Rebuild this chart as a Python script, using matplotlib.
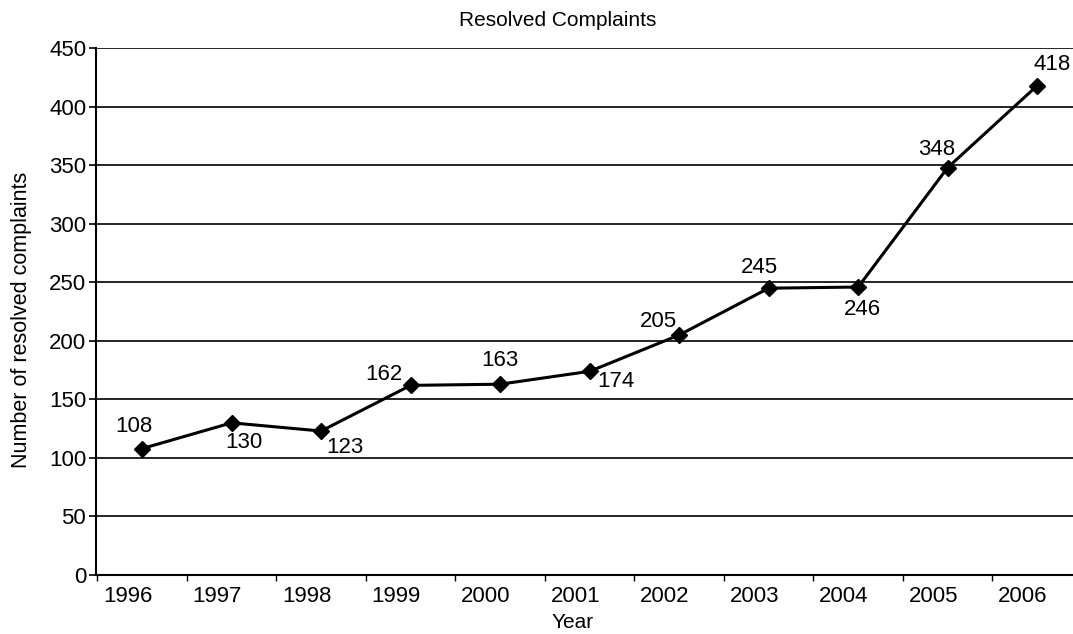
import numpy as np
import matplotlib.pyplot as plt

plt.rcParams['font.family'] = ['Liberation Sans', 'DejaVu Sans']

years = ['1996', '1997', '1998', '1999', '2000', '2001', '2002', '2003', '2004', '2005', '2006']
complaints = [108, 130, 123, 162, 163, 174, 205, 245, 246, 348, 418]
# label offsets (points) for each data label
offsets = [(-6, 16), (9, -14), (17, -12), (-19, 8), (0, 17), (19, -7),
           (-15, 10), (-7, 15), (3, -16), (-8, 13), (11, 15)]

fig = plt.figure(figsize=(10.73, 6.34), dpi=100)
# plot area runs off the right edge, like the scanned original
ax = fig.add_axes([0.0895, 0.093, 0.9105, 0.831])

x = np.arange(len(years))
ax.plot(x, complaints, color='black', lw=2.2, marker='D', markersize=8)

for xi, v, off in zip(x, complaints, offsets):
    ax.annotate(str(v), (xi, v), xytext=off, textcoords='offset points',
                ha='center', va='center', fontsize=16)

ax.set_ylim(0, 450)
ax.set_yticks(range(0, 451, 50))
ax.set_xlim(-0.515, 10.40)
ax.yaxis.grid(True, color='black', lw=1.2)
ax.set_axisbelow(True)

# tick marks between categories, labels under the points
ax.set_xticks(np.arange(-0.5, 10.5, 1.0))
ax.set_xticklabels([])
ax.set_xticks(x - 0.16, minor=True)
ax.set_xticklabels(years, minor=True, fontsize=16)
ax.tick_params(axis='x', which='minor', length=0, pad=8)
ax.tick_params(axis='x', which='major', length=4, width=1)
ax.tick_params(axis='y', labelsize=16, length=5, width=1.2, pad=2)

for s in ['top', 'right']:
    ax.spines[s].set_visible(False)
ax.spines['left'].set_linewidth(1.5)
ax.spines['bottom'].set_linewidth(1.5)

ax.set_title('Resolved Complaints', fontsize=15, x=0.473, pad=16)
ax.set_xlabel('Year', fontsize=15, labelpad=4, x=0.488)
ax.set_ylabel('Number of resolved complaints', fontsize=15.5, labelpad=12, y=0.484)

fig.savefig('out.png', dpi=100)
